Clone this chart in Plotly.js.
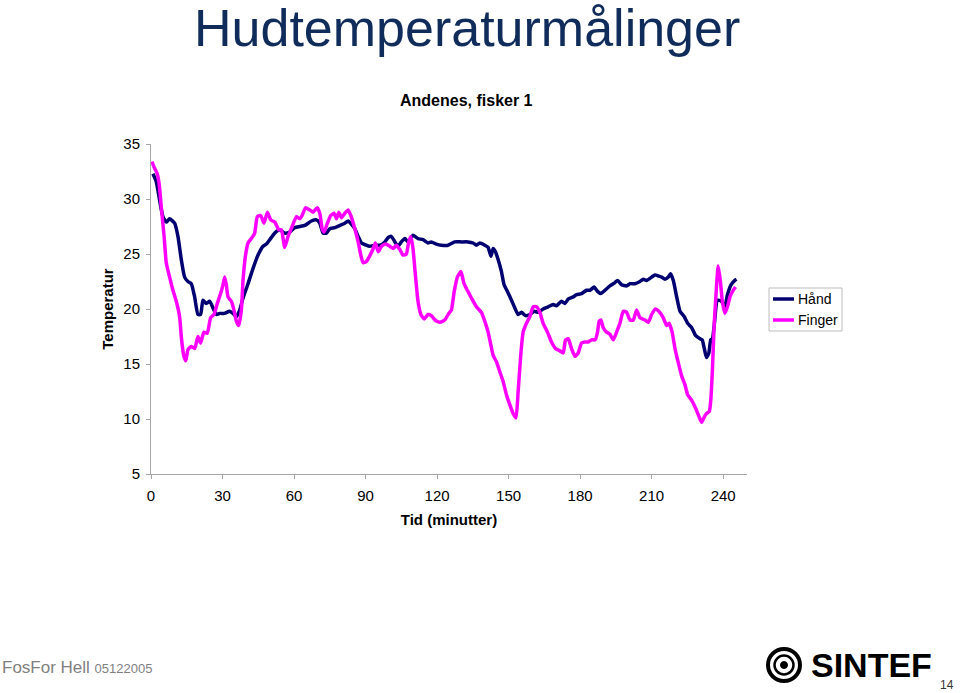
<!DOCTYPE html>
<html>
<head>
<meta charset="utf-8">
<script src="https://cdn.plot.ly/plotly-3.0.1.min.js"></script>
<style>
html,body{margin:0;padding:0;background:#fff;}
#chart{width:960px;height:693px;}
</style>
</head>
<body>
<div id="chart"></div>
<script>
// ---- Data ----
var seriesNames = ["Hånd", "Finger"];
var seriesColors = ["#000070", "#FF00FF"];
var xTickVals = [0, 30, 60, 90, 120, 150, 180, 210, 240];
var yTickVals = [5, 10, 15, 20, 25, 30, 35];

var handTime = [
  0.8, 2.2, 3.6, 5.0, 6.4, 7.8, 9.9, 11.3, 12.7, 14.1,
  15.5, 16.9, 18.3, 19.7, 20.8, 21.8, 23.2, 24.6, 26.0, 27.4,
  28.8, 30.9, 33.0, 34.4, 35.8, 37.2, 38.6, 40.7, 42.8, 44.9,
  47.0, 48.4, 49.8, 51.9, 54.0, 56.1, 58.2, 60.3, 62.4, 64.5,
  67.3, 69.4, 70.8, 72.2, 73.6, 75.0, 77.1, 79.2, 81.3, 82.7,
  84.1, 85.5, 86.9, 88.3, 90.3, 91.7, 93.9, 96.0, 98.1, 99.5,
  100.8, 102.3, 103.6, 105.0, 106.5, 107.8, 109.2, 109.9, 112.0, 114.1,
  116.2, 117.6, 119.7, 121.8, 124.6, 127.4, 130.2, 133.0, 135.1, 136.5,
  137.9, 140.0, 141.4, 142.6, 143.5, 144.5, 145.6, 147.0, 148.1, 149.5,
  151.2, 152.6, 154.0, 155.4, 157.1, 158.9, 160.7, 162.4, 164.5, 166.6,
  168.7, 170.1, 172.2, 173.6, 175.0, 177.1, 178.5, 180.6, 182.7, 184.1,
  185.9, 187.3, 188.7, 190.4, 192.5, 194.6, 195.7, 197.4, 199.5, 200.9,
  203.0, 205.1, 206.5, 207.9, 210.0, 211.4, 212.8, 214.2, 215.6, 217.0,
  217.9, 219.1, 220.5, 221.9, 223.7, 225.1, 226.8, 228.4, 230.3, 231.2,
  232.1, 233.0, 234.0, 234.8, 235.5, 236.2, 237.6, 239.3, 240.7, 241.8,
  243.3, 244.9, 245.6
];
var handTemp = [
  32.3, 31.6, 29.9, 28.4, 27.9, 28.2, 27.8, 26.6, 24.5, 22.9,
  22.5, 22.3, 21.1, 19.5, 19.5, 20.8, 20.5, 20.7, 20.1, 19.5,
  19.6, 19.6, 19.8, 19.6, 19.3, 19.9, 21.0, 22.3, 23.7, 24.9,
  25.7, 25.9, 26.3, 26.9, 27.2, 26.9, 27.0, 27.4, 27.5, 27.6,
  28.0, 28.1, 27.8, 26.9, 26.9, 27.3, 27.4, 27.6, 27.8, 28.0,
  27.7, 27.3, 26.6, 26.0, 25.8, 25.7, 25.8, 25.8, 26.1, 26.5,
  26.6, 26.1, 25.7, 26.1, 26.4, 26.1, 26.5, 26.7, 26.4, 26.3,
  26.0, 26.1, 25.9, 25.8, 25.8, 26.1, 26.1, 26.1, 26.0, 25.8,
  26.0, 25.8, 25.6, 24.8, 25.5, 25.2, 24.5, 23.4, 22.2, 21.6,
  20.8, 20.1, 19.5, 19.7, 19.4, 19.5, 19.8, 19.7, 20.0, 20.2,
  20.4, 20.3, 20.7, 20.5, 20.9, 21.1, 21.3, 21.4, 21.7, 21.7,
  22.0, 21.6, 21.4, 21.7, 22.1, 22.4, 22.6, 22.2, 22.1, 22.3,
  22.3, 22.5, 22.7, 22.6, 22.9, 23.1, 23.0, 22.9, 22.7, 22.9,
  23.2, 22.6, 21.1, 19.8, 19.3, 18.7, 18.3, 17.6, 17.3, 17.2,
  16.4, 15.6, 16.0, 17.2, 17.3, 18.4, 20.8, 20.7, 20.2, 21.3,
  22.2, 22.6, 22.7
];

var fingerTime = [
  0.4, 1.5, 2.6, 3.4, 4.3, 5.5, 6.4, 7.8, 9.2, 10.6,
  12.0, 12.7, 13.7, 14.6, 15.5, 16.9, 18.3, 19.7, 20.8, 22.2,
  23.6, 25.0, 26.4, 27.8, 29.2, 30.2, 30.9, 31.6, 32.3, 33.7,
  34.8, 35.8, 36.8, 37.9, 38.6, 39.6, 40.7, 42.1, 43.5, 44.6,
  46.0, 47.4, 48.8, 50.2, 51.9, 53.6, 54.7, 56.1, 57.5, 59.2,
  61.0, 62.4, 63.4, 64.8, 66.6, 68.0, 69.7, 70.8, 71.8, 72.6,
  74.0, 75.4, 76.8, 77.8, 78.8, 79.9, 81.3, 82.7, 83.8, 85.5,
  86.9, 88.0, 89.0, 90.3, 91.7, 93.2, 94.1, 95.3, 96.7, 98.4,
  100.2, 101.6, 102.9, 104.4, 105.7, 107.1, 108.1, 109.0, 109.9, 110.9,
  112.0, 113.2, 114.6, 116.2, 117.6, 119.1, 121.2, 123.2, 124.9, 126.0,
  127.2, 128.5, 130.0, 131.3, 132.7, 134.4, 136.5, 138.6, 140.0, 141.4,
  142.6, 143.5, 144.9, 146.3, 147.7, 149.1, 150.5, 151.9, 153.1, 154.0,
  155.2, 156.1, 157.5, 158.9, 160.3, 161.7, 163.1, 164.5, 166.3, 168.0,
  169.7, 171.5, 172.9, 173.9, 175.0, 176.4, 177.8, 179.2, 180.6, 182.0,
  183.4, 184.8, 186.3, 187.3, 188.0, 188.7, 189.7, 191.1, 192.5, 193.9,
  195.3, 196.7, 198.1, 199.5, 200.9, 202.3, 203.7, 205.1, 207.2, 208.6,
  210.0, 211.6, 213.0, 214.9, 216.3, 217.3, 218.6, 219.8, 221.2, 222.6,
  224.0, 225.1, 226.8, 228.4, 229.9, 231.0, 232.1, 233.0, 234.2, 234.8,
  235.5, 236.2, 237.2, 237.9, 238.8, 239.6, 240.7, 241.8, 243.0, 244.2,
  245.2
];
var fingerTemp = [
  33.4, 32.8, 32.3, 31.4, 29.3, 26.6, 24.2, 22.9, 21.7, 20.7,
  19.3, 17.5, 15.8, 15.3, 16.3, 16.6, 16.4, 17.5, 16.9, 17.9,
  17.8, 19.2, 19.5, 20.5, 21.4, 22.2, 22.9, 22.2, 21.1, 20.7,
  19.9, 18.9, 18.5, 19.9, 22.6, 24.8, 26.0, 26.4, 26.9, 28.4,
  28.5, 27.8, 28.8, 28.1, 27.9, 27.2, 27.2, 25.6, 26.6, 27.5,
  28.4, 28.2, 28.5, 29.2, 29.0, 28.8, 29.2, 28.7, 27.3, 27.0,
  27.8, 28.5, 28.7, 28.2, 28.8, 28.3, 28.7, 29.0, 28.5, 27.3,
  26.1, 24.9, 24.2, 24.3, 24.8, 25.5, 26.0, 25.2, 25.7, 25.9,
  25.7, 25.5, 25.8, 25.4, 24.9, 25.0, 26.1, 26.6, 25.5, 23.1,
  20.7, 19.5, 19.1, 19.5, 19.4, 19.0, 18.8, 19.0, 19.6, 19.9,
  21.6, 22.9, 23.4, 22.3, 21.7, 21.0, 20.2, 19.7, 18.9, 17.9,
  16.7, 15.8, 15.2, 14.3, 13.4, 12.2, 11.3, 10.5, 10.1, 12.5,
  16.1, 17.9, 18.7, 19.3, 20.2, 20.2, 19.7, 18.7, 17.9, 17.0,
  16.4, 16.2, 16.0, 17.2, 17.3, 16.4, 15.7, 16.0, 16.9, 17.0,
  17.0, 17.2, 17.2, 17.9, 18.9, 19.0, 18.3, 17.9, 17.7, 17.2,
  17.9, 18.7, 19.8, 19.7, 19.0, 19.0, 19.9, 19.2, 19.0, 18.8,
  19.5, 20.0, 19.8, 19.2, 18.5, 18.7, 17.9, 16.4, 15.1, 13.9,
  13.1, 12.2, 11.7, 11.0, 10.2, 9.7, 10.2, 10.5, 10.7, 11.7,
  14.5, 18.4, 22.0, 23.9, 22.6, 20.8, 19.6, 20.2, 21.2, 21.7,
  22.0
];

// ---- Layout helpers: pixel -> paper coordinates ----
var PL = 151, PR = 747, PT = 144, PB = 474;
function X(px){ return (px - PL) / (PR - PL); }
function Y(py){ return (PB - py) / (PB - PT); }

var FONT = "Liberation Sans, Arial, sans-serif";

var traces = [
  {
    x: handTime, y: handTemp, name: seriesNames[0], type: "scatter", mode: "lines",
    line: {color: seriesColors[0], width: 3.5, shape: "spline", smoothing: 0.5}
  },
  {
    x: fingerTime, y: fingerTemp, name: seriesNames[1], type: "scatter", mode: "lines",
    line: {color: seriesColors[1], width: 3.5, shape: "spline", smoothing: 0.5}
  }
];

// SINTEF logo emblem (rings)
var cx = 784, cy = 665;
function circle(r, lw, fill){
  return {type: "circle", xref: "paper", yref: "paper",
    x0: X(cx - r), x1: X(cx + r), y0: Y(cy + r), y1: Y(cy - r),
    line: {color: "#000", width: lw}, fillcolor: fill || "rgba(0,0,0,0)"};
}

// Compact legend box (drawn like the original's small legend)
var legBox = {x0: 769, x1: 842, y0: 288, y1: 331};
var legRows = [299, 320];
var legendShapes = [
  {type: "rect", xref: "paper", yref: "paper",
   x0: X(legBox.x0), x1: X(legBox.x1), y0: Y(legBox.y1), y1: Y(legBox.y0),
   line: {color: "#BDBDBD", width: 1}, fillcolor: "#fff"}
];
var legendAnn = [];
seriesNames.forEach(function(n, i){
  legendShapes.push({type: "line", xref: "paper", yref: "paper",
    x0: X(773), x1: X(794), y0: Y(legRows[i]), y1: Y(legRows[i]),
    line: {color: seriesColors[i], width: 3.5}});
  legendAnn.push({text: n, xref: "paper", yref: "paper", x: X(796), y: Y(legRows[i]),
    xanchor: "left", yanchor: "middle", showarrow: false,
    font: {family: FONT, size: 14, color: "#000"}});
});

var layout = {
  width: 960, height: 693,
  margin: {l: PL, r: 960 - PR, t: PT, b: 693 - PB, pad: 0},
  paper_bgcolor: "#fff", plot_bgcolor: "#fff",
  font: {family: FONT, color: "#000", size: 15},
  showlegend: false,
  xaxis: {
    range: [0, 250], tickvals: xTickVals, ticktext: xTickVals.map(String),
    showgrid: false, zeroline: false, showline: true, linecolor: "#A6A6A6", linewidth: 1,
    ticks: "outside", ticklen: 4, tickcolor: "#A6A6A6", ticklabelstandoff: 4,
    tickfont: {size: 15, family: FONT, color: "#000"},
    title: {text: "Tid (minutter)", font: {size: 15, weight: "bold", family: FONT}, standoff: 11},
    fixedrange: true
  },
  yaxis: {
    range: [5, 35], tickvals: yTickVals, ticktext: yTickVals.map(String),
    showgrid: false, zeroline: false, showline: true, linecolor: "#A6A6A6", linewidth: 1,
    ticks: "outside", ticklen: 4, tickcolor: "#A6A6A6", ticklabelstandoff: 3,
    tickfont: {size: 15, family: FONT, color: "#000"},
    title: {text: "Temperatur", font: {size: 15, weight: "bold", family: FONT}, standoff: 6},
    fixedrange: true
  },
  annotations: [
    {text: "Hudtemperaturmålinger", xref: "paper", yref: "paper", x: X(467), y: Y(28),
     xanchor: "center", yanchor: "middle", showarrow: false,
     font: {family: FONT, size: 52, color: "#102C5A"}},
    {text: "Andenes, fisker 1", xref: "paper", yref: "paper", x: X(466.5), y: Y(101),
     xanchor: "center", yanchor: "middle", showarrow: false,
     font: {family: FONT, size: 16, weight: "bold", color: "#000"}},
    {text: "FosFor Hell <span style=\"font-size:13px\">05122005</span>", xref: "paper", yref: "paper",
     x: X(0), y: Y(667), xanchor: "left", yanchor: "middle", showarrow: false,
     font: {family: FONT, size: 17, color: "#7F7F7F"}},
    {text: "14", xref: "paper", yref: "paper", x: X(956), y: Y(685),
     xanchor: "right", yanchor: "middle", showarrow: false,
     font: {family: FONT, size: 12, color: "#333"}},
    {text: "SINTEF", xref: "paper", yref: "paper", x: X(871), y: Y(665),
     xanchor: "center", yanchor: "middle", showarrow: false,
     font: {family: FONT, size: 34, weight: "bold", color: "#000"}}
  ].concat(legendAnn),
  shapes: [
    circle(16, 4),
    circle(9.5, 2.5),
    circle(3.5, 1, "#000")
  ].concat(legendShapes)
};

Plotly.newPlot("chart", traces, layout, {displayModeBar: false, staticPlot: true});
</script>
</body>
</html>
